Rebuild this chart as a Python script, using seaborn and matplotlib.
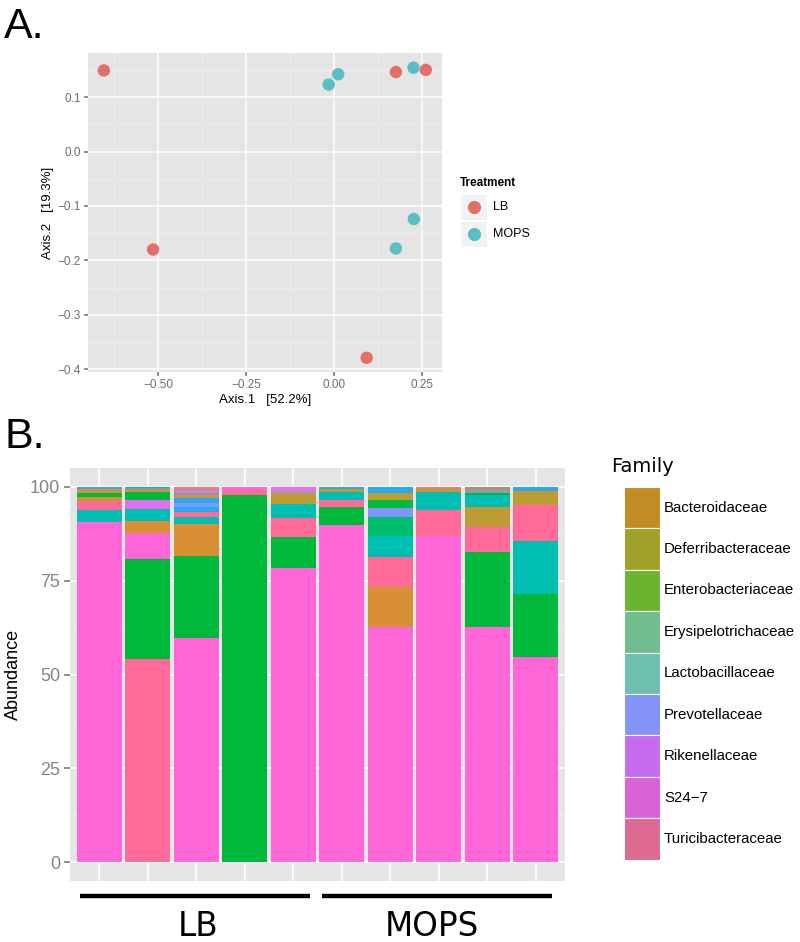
import numpy as np
import pandas as pd
import matplotlib
matplotlib.use("Agg")
import matplotlib.pyplot as plt
import seaborn as sns
from matplotlib.patches import Rectangle
from matplotlib.lines import Line2D
from matplotlib.ticker import MultipleLocator

# ---- panel A: ordination scores ----
axis1 = [-0.654, -0.514, 0.093, 0.176, 0.261, -0.015, 0.012, 0.226, 0.227, 0.176]
axis2 = [0.149, -0.180, -0.379, 0.146, 0.150, 0.123, 0.142, 0.154, -0.124, -0.178]
treatment = ["LB"] * 5 + ["MOPS"] * 5
treat_colors = {"LB": "#E2706A", "MOPS": "#5CBEC5"}

# ---- panel B: stacked abundances, bottom to top for each sample ----
samples = ["LB1", "LB2", "LB3", "LB4", "LB5", "MOPS1", "MOPS2", "MOPS3", "MOPS4", "MOPS5"]
bar_taxa = [
    ["pink", "teal", "rose", "olive", "green", "orange", "sky"],
    ["rose", "green", "pink", "orange", "teal", "violet", "green", "olive", "grey", "teal"],
    ["pink", "green", "orange", "teal", "rose", "sky", "blue", "sky", "orange", "grey", "lavender", "red"],
    ["green", "rose", "pink"],
    ["pink", "green", "rose", "teal", "olive", "lavender", "pink"],
    ["pink", "green", "rose", "teal", "olive", "sky"],
    ["pink", "orange", "rose", "teal", "green2", "blue", "green", "olive", "sky"],
    ["pink", "rose", "teal", "olive", "red"],
    ["pink", "green", "rose", "olive", "teal", "green", "blue", "olive", "grey"],
    ["pink", "green", "teal", "rose", "olive", "sky"],
]
bar_values = [
    [90.5, 3.2, 2.4, 1.1, 1.1, 1.1, 0.6],
    [54.1, 26.6, 6.9, 3.2, 3.2, 2.5, 2.2, 0.5, 0.4, 0.4],
    [59.7, 21.9, 8.4, 2.0, 1.4, 1.2, 1.2, 1.2, 0.8, 0.6, 0.7, 0.9],
    [97.8, 1.4, 0.8],
    [78.3, 8.2, 5.3, 3.6, 2.9, 0.9, 0.8],
    [89.7, 4.9, 1.9, 2.0, 0.8, 0.7],
    [62.6, 10.6, 8.0, 5.8, 4.9, 2.4, 2.2, 1.8, 1.7],
    [87.0, 6.9, 4.6, 0.8, 0.7],
    [62.6, 19.9, 6.7, 5.5, 3.0, 0.6, 0.6, 0.5, 0.6],
    [54.6, 16.9, 14.1, 9.6, 3.7, 1.1],
]
taxon_colors = {
    "pink": "#FF66D8", "rose": "#FF6A98", "green": "#00B83A", "green2": "#00BE70",
    "teal": "#00BFB2", "orange": "#D98F33", "olive": "#BC9C33", "blue": "#7F96FF",
    "sky": "#26A9EE", "violet": "#E070F0", "grey": "#9A8FA0", "lavender": "#B48AE0",
    "red": "#F8766D",
}

families = ["Bacteroidaceae", "Deferribacteraceae", "Enterobacteriaceae",
            "Erysipelotrichaceae", "Lactobacillaceae", "Prevotellaceae",
            "Rikenellaceae", "S24\u22127", "Turicibacteraceae"]
family_colors = ["#C38B24", "#A1A12A", "#6BB42F", "#70BD8E", "#6FBFB1",
                 "#8393F8", "#C56BF0", "#DA62D6", "#DC6A93"]

group_labels = ["LB", "MOPS"]

sns.set_theme(style="darkgrid", rc={"axes.facecolor": "#E5E5E5", "grid.color": "white",
                                    "text.color": "black", "axes.labelcolor": "black"})
plt.rcParams["font.family"] = ["Liberation Sans", "DejaVu Sans"]

W, H = 800, 942
fig = plt.figure(figsize=(W / 100, H / 100), dpi=100)


def fx(px):
    return px / W


def fy(py):
    return 1 - py / H


# ---------------- panel A ----------------
axA = fig.add_axes([fx(88), fy(372), fx(354), (372 - 53) / H])
df = pd.DataFrame({"Axis.1": axis1, "Axis.2": axis2, "Treatment": treatment})
sns.scatterplot(data=df, x="Axis.1", y="Axis.2", hue="Treatment", palette=treat_colors,
                s=80, linewidth=0, legend=False, ax=axA)
axA.set_xlim(-0.699, 0.307)
axA.set_ylim(-0.405, 0.181)
axA.set_xticks([-0.50, -0.25, 0.00, 0.25])
axA.set_xticklabels(["\u22120.50", "\u22120.25", "0.00", "0.25"])
axA.set_yticks([0.1, 0.0, -0.1, -0.2, -0.3, -0.4])
axA.set_yticklabels(["0.1", "0.0", "\u22120.1", "\u22120.2", "\u22120.3", "\u22120.4"])
axA.xaxis.set_minor_locator(MultipleLocator(0.125))
axA.yaxis.set_minor_locator(MultipleLocator(0.05))
axA.grid(which="major", color="white", linewidth=1.1)
axA.grid(which="minor", color="#F0F0F0", linewidth=0.5)
axA.tick_params(which="major", length=3, color="#7F7F7F", labelsize=8.5,
                labelcolor="#6E6E6E", pad=2, bottom=True, left=True)
axA.tick_params(which="minor", length=0)
axA.set_xlabel("Axis.1   [52.2%]", fontsize=9.5, labelpad=2)
axA.set_ylabel("Axis.2   [19.3%]", fontsize=9.5, labelpad=3)
for sp in axA.spines.values():
    sp.set_visible(False)

# legend for panel A
fig.text(fx(460), fy(183), "Treatment", fontsize=8.5, fontweight="bold", va="center")
for i, t in enumerate(group_labels):
    y0 = 194 + i * 27
    fig.add_artist(Rectangle((fx(460), fy(y0 + 26)), fx(27), 26 / H,
                             facecolor="#F2F2F2", edgecolor="white", lw=0.8,
                             transform=fig.transFigure))
    fig.add_artist(Line2D([fx(474)], [fy(y0 + 13)], marker="o", markersize=8.5,
                          color=treat_colors[t], linestyle="none",
                          transform=fig.transFigure))
    fig.text(fx(493), fy(y0 + 13), t, fontsize=9, va="center")

# ---------------- panel B ----------------
axB = fig.add_axes([fx(70), fy(881), fx(495), 413 / H])
xpos = np.arange(1, len(samples) + 1)
for x, taxa, vals in zip(xpos, bar_taxa, bar_values):
    bottom = 0.0
    for t, v in zip(taxa, vals):
        axB.bar(x, v, bottom=bottom, width=0.93, color=taxon_colors[t], linewidth=0)
        bottom += v
axB.set_xlim(0.4, len(samples) + 0.6)
axB.set_ylim(-5, 105)
axB.set_xticks(xpos)
axB.set_yticks([0, 25, 50, 75, 100])
axB.yaxis.set_minor_locator(MultipleLocator(12.5))
axB.grid(which="major", color="white", linewidth=1.2)
axB.grid(which="minor", axis="y", color="#F0F0F0", linewidth=0.6)
axB.set_axisbelow(True)
axB.tick_params(axis="x", length=0, labelbottom=False)
axB.tick_params(axis="y", which="major", length=4, color="#7F7F7F", labelsize=13,
                labelcolor="#858585", pad=3, left=True)
axB.tick_params(axis="y", which="minor", length=0)
axB.set_ylabel("Abundance", fontsize=13, labelpad=6)
axB.set_xlabel("")
for sp in axB.spines.values():
    sp.set_visible(False)

# group bars and labels below panel B
for (x0, x1, xc), lab in zip([(80, 310, 198), (322, 552, 432)], group_labels):
    fig.add_artist(Line2D([fx(x0), fx(x1)], [fy(896), fy(896)], color="black",
                          linewidth=3.2, solid_capstyle="butt",
                          transform=fig.transFigure))
    fig.text(fx(xc), fy(927), lab, fontsize=23.5, ha="center", va="center",
             family="DejaVu Sans")

# legend for panel B
fig.text(fx(611), fy(467), "Family", fontsize=14, va="center", family="DejaVu Sans")
key_h = 41.4
for i, (fam, col) in enumerate(zip(families, family_colors)):
    y0 = 487 + i * key_h
    fig.add_artist(Rectangle((fx(624), fy(y0 + key_h)), fx(36), key_h / H,
                             facecolor=col, edgecolor="white", lw=0.8,
                             transform=fig.transFigure))
    fig.text(fx(664), fy(y0 + key_h / 2), fam, fontsize=10.8, va="center")

# panel letters
fig.text(fx(4), fy(38), "A.", fontsize=31, va="baseline")
fig.text(fx(4), fy(448), "B.", fontsize=31, va="baseline")

fig.savefig("out.png", dpi=100)
